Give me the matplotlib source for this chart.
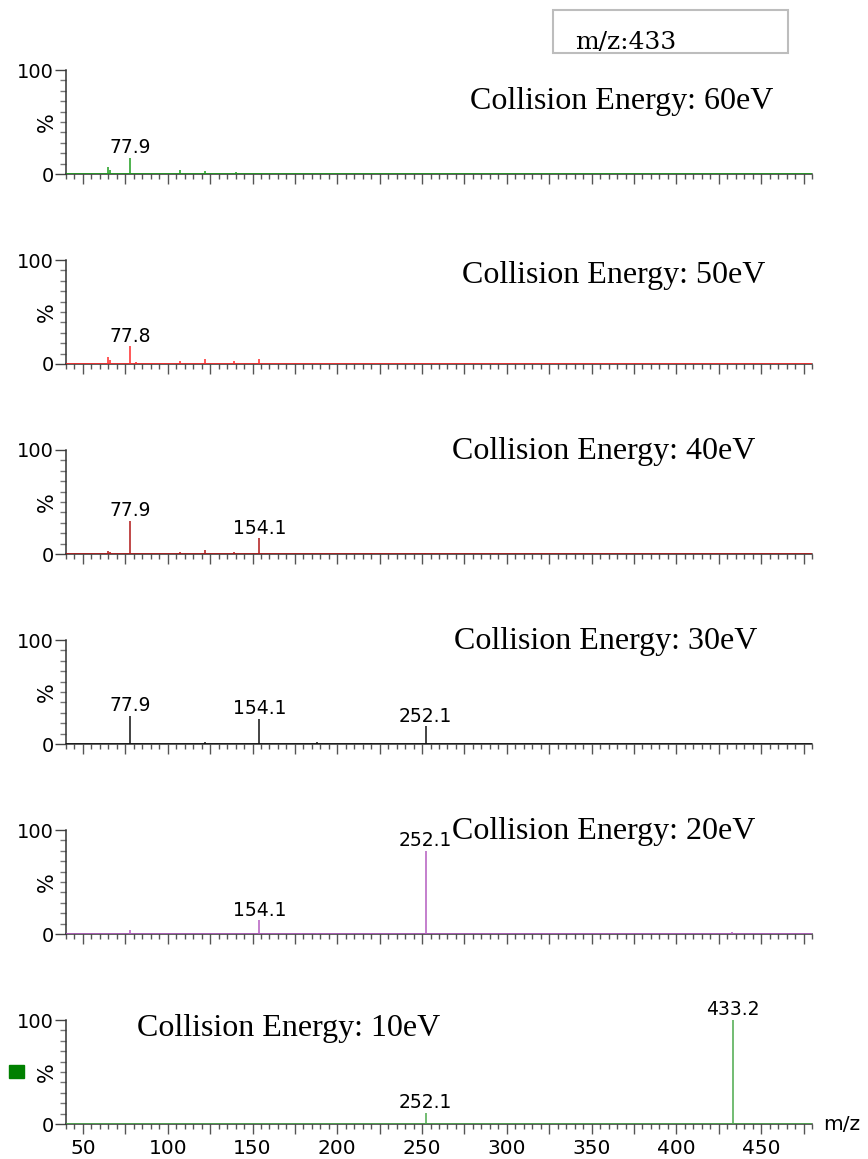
import matplotlib
matplotlib.use('Agg')
import matplotlib.pyplot as plt
from matplotlib.ticker import MultipleLocator, FuncFormatter
from matplotlib.patches import Rectangle

# spectra, top to bottom (m/z, relative intensity %)
energies = ['60eV', '50eV', '40eV', '30eV', '20eV', '10eV']

mz_60 = [64.9, 66.0, 77.9, 107.0, 122.0, 140.0, 155.0]
int_60 = [7.0, 4.0, 15.5, 4.0, 3.0, 1.5, 1.0]

mz_50 = [64.9, 66.0, 77.8, 81.0, 90.0, 97.0, 107.0, 122.0, 139.0, 154.1]
int_50 = [7.0, 4.0, 17.0, 1.5, 1.0, 0.5, 3.0, 5.0, 3.0, 5.0]

mz_40 = [64.9, 66.0, 77.9, 107.0, 122.0, 139.0, 154.1, 220.0, 252.0]
int_40 = [3.0, 1.5, 32.0, 2.0, 4.0, 2.0, 15.0, 1.0, 0.5]

mz_30 = [77.9, 122.0, 154.1, 188.0, 220.0, 252.1]
int_30 = [27.0, 1.5, 24.0, 1.5, 1.0, 17.0]

mz_20 = [77.9, 154.1, 178.6, 188.0, 220.0, 252.1, 433.0]
int_20 = [3.5, 13.0, 0.5, 1.0, 0.5, 80.0, 1.5]

mz_10 = [252.1, 433.2]
int_10 = [11.0, 100.0]

labels_60 = [77.9]
labels_50 = [77.8]
labels_40 = [77.9, 154.1]
labels_30 = [77.9, 154.1, 252.1]
labels_20 = [154.1, 252.1]
labels_10 = [252.1, 433.2]

spectra = [(mz_60, int_60, labels_60), (mz_50, int_50, labels_50),
           (mz_40, int_40, labels_40), (mz_30, int_30, labels_30),
           (mz_20, int_20, labels_20), (mz_10, int_10, labels_10)]

colors = ['#1e9e1e', '#ff2a2a', '#b01818', '#111111', '#b45cc0', '#4caa4c']

# where the "Collision Energy" text sits in each panel (axes fraction)
text_pos = [(0.542, 0.70), (0.531, 0.855), (0.518, 0.99),
            (0.520, 0.99), (0.518, 0.99), (0.095, 0.92)]

W, H = 868, 1159
fig = plt.figure(figsize=(W / 100, H / 100), dpi=100)

ax_left, ax_right = 66, 812
panel_h = 104

for i, (mz, inten, labs) in enumerate(spectra):
    top = 70 + 190 * i
    ax = fig.add_axes([ax_left / W, 1 - (top + panel_h) / H,
                       (ax_right - ax_left) / W, panel_h / H])
    c = colors[i]
    ax.axhline(0, color=c, lw=1.2, zorder=3)
    ax.vlines(mz, 0, inten, color=c, lw=1.1, clip_on=False, zorder=4)
    for lm in labs:
        k = min(range(len(mz)), key=lambda j: abs(mz[j] - lm))
        ax.annotate('%.1f' % lm, (mz[k], inten[k]), xytext=(0, 0.5),
                    textcoords='offset points', ha='center', va='bottom',
                    fontsize=13.5)
    ax.set_xlim(40, 480)
    ax.set_ylim(0, 100)
    for s in ['top', 'right']:
        ax.spines[s].set_visible(False)
    for s in ['left', 'bottom']:
        ax.spines[s].set_color('#333333')
        ax.spines[s].set_linewidth(1.1)
    ax.set_yticks([0, 100])
    ax.yaxis.set_minor_locator(MultipleLocator(10))
    ax.xaxis.set_major_locator(MultipleLocator(25))
    ax.xaxis.set_minor_locator(MultipleLocator(5))
    ax.tick_params(axis='y', which='major', length=8, width=1.0,
                   color='#444444', pad=0.5, labelsize=14)
    ax.tick_params(axis='y', which='minor', length=4, width=1.0,
                   color='#777777')
    ax.tick_params(axis='x', which='major', length=7, width=1.0,
                   color='#555555', pad=3.5, labelsize=14.5)
    ax.tick_params(axis='x', which='minor', length=3.6, width=1.0,
                   color='#555555')
    if i == len(spectra) - 1:
        ax.xaxis.set_major_formatter(FuncFormatter(
            lambda v, p: '%d' % v if v % 50 == 0 else ''))
        ax.text(1 + 11 / 746, 0, 'm/z', transform=ax.transAxes,
                ha='left', va='center', fontsize=14.5)
    else:
        ax.set_xticklabels([])
    ax.text(-0.026, 0.5, '%', transform=ax.transAxes, rotation=90,
            ha='center', va='center', fontsize=15)
    tx, ty = text_pos[i]
    ax.text(tx, ty, 'Collision Energy: ' + energies[i], transform=ax.transAxes,
            ha='left', va='center', fontsize=23, family='Liberation Serif')

# precursor box and marker square
fig.patches.append(Rectangle((553 / W, 1 - 53 / H), 235 / W, 43 / H,
                             transform=fig.transFigure, fill=False,
                             ec='#bdbdbd', lw=1.5))
fig.text(575 / W, 1 - 49 / H, 'm/z:433', ha='left', va='baseline',
         fontsize=18, family='DejaVu Serif')
fig.patches.append(Rectangle((9 / W, 1 - 1078 / H), 15 / W, 13 / H,
                             transform=fig.transFigure, color='#008000'))

fig.savefig('out.png', dpi=100)
